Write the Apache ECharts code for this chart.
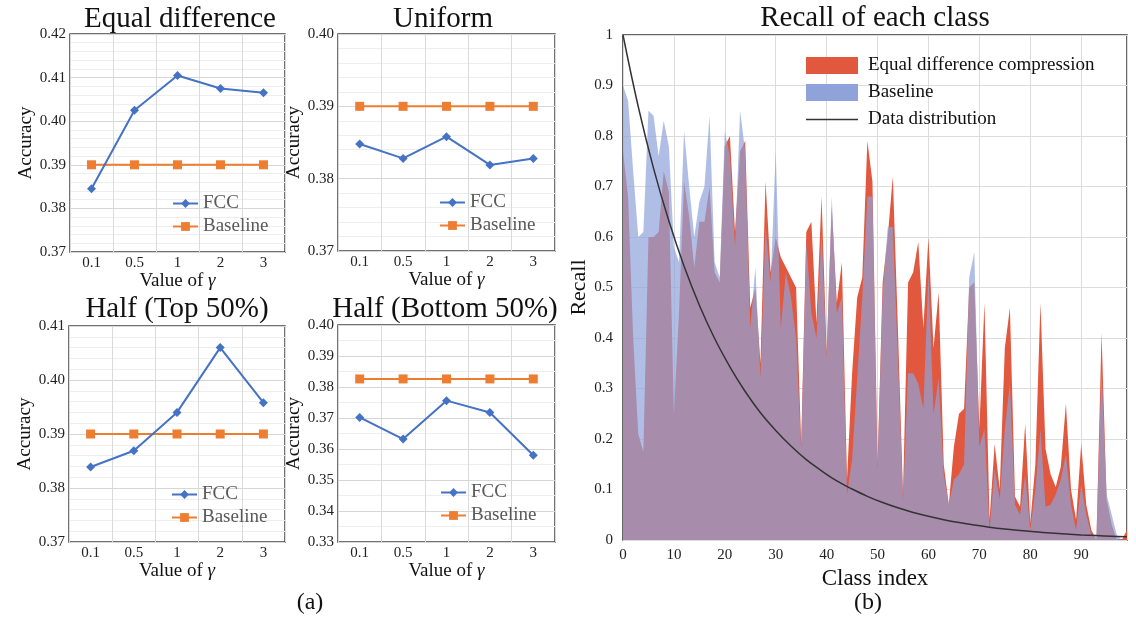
<!DOCTYPE html>
<html><head><meta charset="utf-8">
<script src="https://cdn.jsdelivr.net/npm/echarts@6/dist/echarts.min.js"></script>
<style>html,body{margin:0;padding:0;background:#fff}#c{width:1136px;height:619px}</style>
</head><body><div id="c"></div>
<script>
// ---------- data ----------
const gammaLabels = ['0.1', '0.5', '1', '2', '3'];
const eqFCC   = [0.3845, 0.4025, 0.4105, 0.4075, 0.4065];
const eqBase  = [0.39, 0.39, 0.39, 0.39, 0.39];
const uniFCC  = [0.3848, 0.3828, 0.3858, 0.3819, 0.3828];
const uniBase = [0.39, 0.39, 0.39, 0.39, 0.39];
const topFCC  = [0.3839, 0.3869, 0.3940, 0.4060, 0.3958];
const topBase = [0.39, 0.39, 0.39, 0.39, 0.39];
const botFCC  = [0.3702, 0.3632, 0.3756, 0.3718, 0.3580];
const botBase = [0.3826, 0.3826, 0.3826, 0.3826, 0.3826];
const smallTitles = ['Equal difference', 'Uniform', 'Half (Top 50%)', 'Half (Bottom 50%)'];

// recall per class (class index = position 0..99)
const edcRecall = [
  0.77, 0.68, 0.40, 0.21, 0.175, 0.60, 0.60, 0.61, 0.73, 0.69,
  0.25, 0.45, 0.71, 0.64, 0.54, 0.63, 0.63, 0.70, 0.53, 0.51,
  0.78, 0.80, 0.61, 0.77, 0.79, 0.46, 0.50, 0.35, 0.71, 0.53,
  0.60, 0.56, 0.54, 0.52, 0.50, 0.19, 0.61, 0.63, 0.43, 0.68,
  0.37, 0.66, 0.47, 0.55, 0.12, 0.33, 0.48, 0.52, 0.79, 0.71,
  0.15, 0.51, 0.60, 0.72, 0.42, 0.09, 0.51, 0.53, 0.59, 0.42,
  0.60, 0.38, 0.49, 0.15, 0.07, 0.185, 0.25, 0.26, 0.50, 0.51,
  0.22, 0.47, 0.04, 0.19, 0.10, 0.38, 0.46, 0.086, 0.066, 0.23,
  0.033, 0.15, 0.47, 0.18, 0.13, 0.105, 0.145, 0.27, 0.10, 0.04,
  0.19, 0.07, 0.02, 0.00, 0.41, 0.08, 0.03, 0.00, 0.00, 0.02
];
const baseRecall = [
  0.90, 0.87, 0.73, 0.60, 0.61, 0.85, 0.84, 0.76, 0.83, 0.78,
  0.58, 0.55, 0.81, 0.70, 0.60, 0.67, 0.70, 0.84, 0.55, 0.52,
  0.81, 0.76, 0.58, 0.85, 0.77, 0.42, 0.54, 0.32, 0.62, 0.51,
  0.77, 0.42, 0.53, 0.48, 0.40, 0.18, 0.59, 0.45, 0.40, 0.61,
  0.36, 0.68, 0.45, 0.48, 0.09, 0.16, 0.32, 0.48, 0.68, 0.68,
  0.14, 0.49, 0.62, 0.62, 0.36, 0.08, 0.33, 0.33, 0.31, 0.26,
  0.53, 0.25, 0.32, 0.13, 0.07, 0.12, 0.13, 0.15, 0.52, 0.57,
  0.185, 0.22, 0.02, 0.14, 0.08, 0.22, 0.31, 0.07, 0.05, 0.13,
  0.02, 0.10, 0.22, 0.066, 0.07, 0.09, 0.12, 0.17, 0.07, 0.02,
  0.11, 0.05, 0.01, 0.01, 0.34, 0.09, 0.05, 0.01, 0.00, 0.00
];
const distClass = [0, 3, 6, 9, 12, 15, 18, 21, 24, 27, 30, 33, 36, 39, 42, 45, 48, 51, 54, 57, 60, 63, 66, 69, 72, 75, 78, 81, 84, 87, 90, 93, 96, 99];
const distShare = [1.000, 0.858, 0.736, 0.632, 0.542, 0.465, 0.399, 0.343, 0.294, 0.252, 0.217, 0.186, 0.159, 0.137, 0.117, 0.101, 0.0865, 0.0742, 0.0637, 0.0546, 0.0469, 0.0402, 0.0345, 0.0296, 0.0254, 0.0218, 0.0187, 0.0161, 0.0138, 0.0118, 0.0101, 0.0087, 0.0075, 0.0064];

// ---------- chart ----------
const SERIF = 'Liberation Serif';
const BLUE = '#4472C4', ORANGE = '#ED7D31';
const RED = '#E2583E', LBLUE = '#8FA3DA';

const smallFCC = [eqFCC, uniFCC, topFCC, botFCC];
const smallBase = [eqBase, uniBase, topBase, botBase];
const smallGrid = [
  {left: 70, top: 34, width: 215, height: 218},
  {left: 338, top: 34, width: 217, height: 217},
  {left: 69, top: 326, width: 216, height: 216},
  {left: 338, top: 325, width: 217, height: 217}
];
const smallY = [[0.37, 0.42, 5, 33], [0.37, 0.40, 5, 30], [0.37, 0.41, 5, 33], [0.33, 0.40, 2, 30]];
const smallLegendPos = [[172, 194], [439, 193], [171, 485], [440, 483]];
const titlePos = [[180, 19], [443, 19], [177, 309.5], [445, 309]];

const grids = [], xAxes = [], yAxes = [], series = [], legends = [], graphics = [];
for (let k = 0; k < 4; k++) {
  grids.push(Object.assign({show: true, borderColor: '#444', borderWidth: 1.5, containLabel: false}, smallGrid[k]));
  xAxes.push({
    gridIndex: k, type: 'category', data: gammaLabels, boundaryGap: true,
    axisLine: {show: false}, axisTick: {show: false},
    axisLabel: {fontFamily: SERIF, fontSize: 15, color: '#222', margin: 4},
    splitLine: {show: true, lineStyle: {color: '#dadada', width: 1}},
    name: 'Value of {g|γ}', nameLocation: 'middle', nameGap: 15,
    nameTextStyle: {fontFamily: SERIF, fontSize: 19, color: '#111',
      rich: {g: {fontFamily: SERIF, fontSize: 19, fontStyle: 'italic', color: '#111'}}}
  });
  yAxes.push({
    gridIndex: k, type: 'value', min: smallY[k][0], max: smallY[k][1], interval: 0.01,
    axisLine: {show: false}, axisTick: {show: false},
    axisLabel: {fontFamily: SERIF, fontSize: 15, color: '#222', margin: 4, formatter: v => v.toFixed(2)},
    splitLine: {show: true, lineStyle: {color: '#d6d6d6', width: 1}},
    minorTick: {show: false, splitNumber: smallY[k][2]},
    minorSplitLine: {show: true, lineStyle: {color: '#eeeeee', width: 1}},
    name: 'Accuracy', nameLocation: 'middle', nameRotate: 90, nameGap: smallY[k][3],
    nameTextStyle: {fontFamily: SERIF, fontSize: 19, color: '#111'}
  });
  series.push({
    type: 'line', name: 'Baseline', xAxisIndex: k, yAxisIndex: k, data: smallBase[k],
    symbol: 'rect', symbolSize: 9, color: ORANGE, lineStyle: {width: 2, color: ORANGE}, z: 2
  });
  series.push({
    type: 'line', name: 'FCC', xAxisIndex: k, yAxisIndex: k, data: smallFCC[k],
    symbol: 'diamond', symbolSize: 9, color: BLUE, lineStyle: {width: 2, color: BLUE}, z: 3
  });
  legends.push({
    left: smallLegendPos[k][0], top: smallLegendPos[k][1], orient: 'vertical',
    itemWidth: 25, itemHeight: 11, itemGap: 4, padding: 0,
    textStyle: {fontFamily: SERIF, fontSize: 19, color: '#595959', lineHeight: 19},
    data: ['FCC', 'Baseline'], selectedMode: false
  });
  graphics.push({
    type: 'text', x: titlePos[k][0], y: titlePos[k][1],
    style: {text: smallTitles[k], fontFamily: SERIF, fontSize: 29, fill: '#111', align: 'center', verticalAlign: 'middle'}
  });
}

// big chart
grids.push({left: 623, top: 35, width: 504, height: 505, show: true, borderColor: '#333', borderWidth: 1.5});
xAxes.push({
  gridIndex: 4, type: 'value', min: 0, max: 99, interval: 10,
  axisLine: {show: false}, axisTick: {show: false},
  axisLabel: {fontFamily: SERIF, fontSize: 15, color: '#222', margin: 8, showMaxLabel: false},
  splitLine: {show: true, lineStyle: {color: '#dcdcdc'}},
  name: 'Class index', nameLocation: 'middle', nameGap: 25,
  nameTextStyle: {fontFamily: SERIF, fontSize: 23, color: '#111'}
});
yAxes.push({
  gridIndex: 4, type: 'value', min: 0, max: 1, interval: 0.1,
  axisLine: {show: false}, axisTick: {show: false},
  axisLabel: {fontFamily: SERIF, fontSize: 15, color: '#222', margin: 10},
  splitLine: {show: true, lineStyle: {color: '#dcdcdc'}},
  name: 'Recall', nameLocation: 'middle', nameRotate: 90, nameGap: 27,
  nameTextStyle: {fontFamily: SERIF, fontSize: 22, color: '#111'}
});
series.push({
  type: 'line', name: 'Equal difference compression', xAxisIndex: 4, yAxisIndex: 4,
  data: edcRecall.map((v, i) => [i, v]), symbol: 'none', color: RED,
  lineStyle: {width: 0, opacity: 0}, areaStyle: {color: RED, opacity: 1}, z: 2
});
series.push({
  type: 'line', name: 'Baseline (b)', xAxisIndex: 4, yAxisIndex: 4,
  data: baseRecall.map((v, i) => [i, v]), symbol: 'none', color: LBLUE,
  lineStyle: {width: 0, opacity: 0}, areaStyle: {color: LBLUE, opacity: 0.7}, z: 3
});
series.push({
  type: 'line', name: 'Data distribution', xAxisIndex: 4, yAxisIndex: 4,
  data: distClass.map((c, i) => [c, distShare[i]]), symbol: 'none', smooth: 0.4,
  color: '#333', lineStyle: {width: 1.5, color: '#333'}, z: 4
});
legends.push({
  left: 806, top: 56, orient: 'vertical', itemWidth: 52, itemHeight: 17, itemGap: 8, padding: 0,
  selectedMode: false, itemStyle: {borderWidth: 0},
  textStyle: {fontFamily: SERIF, fontSize: 19, color: '#111', lineHeight: 19, padding: [0, 0, 0, 5]},
  formatter: n => (n === 'Baseline (b)' ? 'Baseline' : n),
  data: [
    {name: 'Equal difference compression', icon: 'rect'},
    {name: 'Baseline (b)', icon: 'rect'},
    {name: 'Data distribution', icon: 'path://M0,0L0.01,0Z M0,7.8L52,7.8L52,9.2L0,9.2Z M0,17L0.01,17Z'}
  ]
});
graphics.push({type: 'text', x: 875, y: 18,
  style: {text: 'Recall of each class', fontFamily: SERIF, fontSize: 29, fill: '#111', align: 'center', verticalAlign: 'middle'}});
graphics.push({type: 'text', x: 310, y: 603,
  style: {text: '(a)', fontFamily: SERIF, fontSize: 24, fill: '#111', align: 'center', verticalAlign: 'middle'}});
graphics.push({type: 'text', x: 868, y: 603,
  style: {text: '(b)', fontFamily: SERIF, fontSize: 24, fill: '#111', align: 'center', verticalAlign: 'middle'}});

const chart = echarts.init(document.getElementById('c'), null, {renderer: 'canvas'});
chart.setOption({
  backgroundColor: '#fff', animation: false,
  grid: grids, xAxis: xAxes, yAxis: yAxes, series: series, legend: legends, graphic: graphics
});
</script></body></html>
